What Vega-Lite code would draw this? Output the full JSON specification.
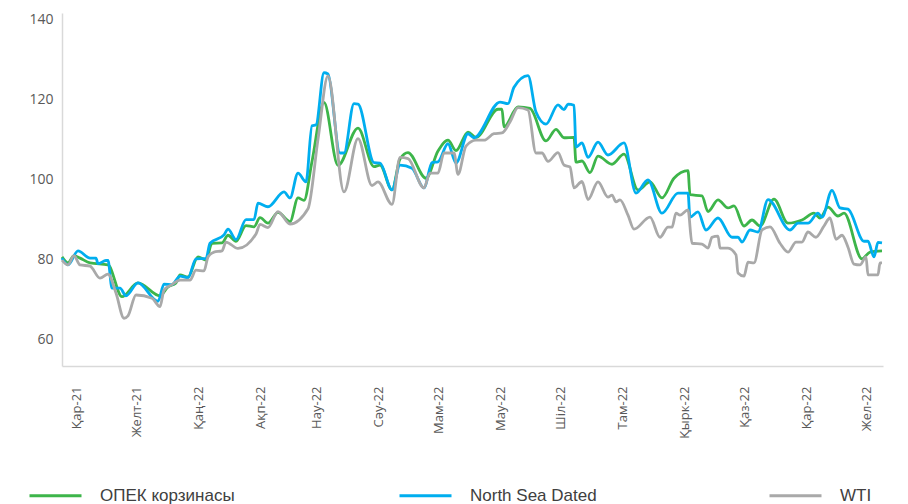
{
  "$schema": "https://vega.github.io/schema/vega-lite/v6.json",
  "width": 821,
  "height": 353,
  "autosize": {"type": "none"},
  "padding": {"left": 62, "top": 13, "right": 25, "bottom": 138},
  "background": "white",
  "config": {"view": {"stroke": null}, "font": "Open Sans"},
  "data": {"values": [
    {"s":"ОПЕК корзинасы","d":"2021-10-25","v":80.7},{"s":"ОПЕК корзинасы","d":"2021-10-28","v":79.2},{"s":"ОПЕК корзинасы","d":"2021-10-31","v":81.0},{"s":"ОПЕК корзинасы","d":"2021-11-03","v":80.4},{"s":"ОПЕК корзинасы","d":"2021-11-08","v":79.2},{"s":"ОПЕК корзинасы","d":"2021-11-17","v":78.7},{"s":"ОПЕК корзинасы","d":"2021-11-24","v":70.8},{"s":"ОПЕК корзинасы","d":"2021-12-02","v":74.2},{"s":"ОПЕК корзинасы","d":"2021-12-13","v":71.0},{"s":"ОПЕК корзинасы","d":"2021-12-17","v":73.2},{"s":"ОПЕК корзинасы","d":"2021-12-21","v":74.2},{"s":"ОПЕК корзинасы","d":"2021-12-23","v":76.2},{"s":"ОПЕК корзинасы","d":"2021-12-27","v":75.7},{"s":"ОПЕК корзинасы","d":"2022-01-01","v":80.7},{"s":"ОПЕК корзинасы","d":"2022-01-05","v":79.9},{"s":"ОПЕК корзинасы","d":"2022-01-08","v":84.1},{"s":"ОПЕК корзинасы","d":"2022-01-13","v":84.2},{"s":"ОПЕК корзинасы","d":"2022-01-16","v":86.1},{"s":"ОПЕК корзинасы","d":"2022-01-20","v":84.6},{"s":"ОПЕК корзинасы","d":"2022-01-25","v":88.5},{"s":"ОПЕК корзинасы","d":"2022-01-29","v":88.2},{"s":"ОПЕК корзинасы","d":"2022-02-01","v":90.5},{"s":"ОПЕК корзинасы","d":"2022-02-05","v":89.1},{"s":"ОПЕК корзинасы","d":"2022-02-10","v":91.8},{"s":"ОПЕК корзинасы","d":"2022-02-16","v":89.5},{"s":"ОПЕК корзинасы","d":"2022-02-20","v":95.4},{"s":"ОПЕК корзинасы","d":"2022-02-23","v":94.8},{"s":"ОПЕК корзинасы","d":"2022-02-27","v":104.5},{"s":"ОПЕК корзинасы","d":"2022-03-05","v":119.2},{"s":"ОПЕК корзинасы","d":"2022-03-12","v":103.5},{"s":"ОПЕК корзинасы","d":"2022-03-22","v":112.8},{"s":"ОПЕК корзинасы","d":"2022-03-30","v":103.2},{"s":"ОПЕК корзинасы","d":"2022-04-02","v":103.6},{"s":"ОПЕК корзинасы","d":"2022-04-08","v":97.4},{"s":"ОПЕК корзинасы","d":"2022-04-12","v":105.1},{"s":"ОПЕК корзинасы","d":"2022-04-16","v":106.7},{"s":"ОПЕК корзинасы","d":"2022-04-25","v":100.3},{"s":"ОПЕК корзинасы","d":"2022-05-01","v":107.1},{"s":"ОПЕК корзинасы","d":"2022-05-06","v":109.8},{"s":"ОПЕК корзинасы","d":"2022-05-10","v":107.2},{"s":"ОПЕК корзинасы","d":"2022-05-16","v":111.8},{"s":"ОПЕК корзинасы","d":"2022-05-20","v":110.5},{"s":"ОПЕК корзинасы","d":"2022-05-31","v":117.5},{"s":"ОПЕК корзинасы","d":"2022-06-02","v":117.5},{"s":"ОПЕК корзинасы","d":"2022-06-03","v":113.1},{"s":"ОПЕК корзинасы","d":"2022-06-10","v":118.1},{"s":"ОПЕК корзинасы","d":"2022-06-16","v":117.7},{"s":"ОПЕК корзинасы","d":"2022-06-24","v":109.6},{"s":"ОПЕК корзинасы","d":"2022-06-29","v":112.5},{"s":"ОПЕК корзинасы","d":"2022-07-03","v":110.4},{"s":"ОПЕК корзинасы","d":"2022-07-08","v":110.5},{"s":"ОПЕК корзинасы","d":"2022-07-09","v":104.3},{"s":"ОПЕК корзинасы","d":"2022-07-12","v":104.6},{"s":"ОПЕК корзинасы","d":"2022-07-16","v":101.7},{"s":"ОПЕК корзинасы","d":"2022-07-20","v":105.8},{"s":"ОПЕК корзинасы","d":"2022-07-27","v":103.8},{"s":"ОПЕК корзинасы","d":"2022-08-02","v":106.3},{"s":"ОПЕК корзинасы","d":"2022-08-09","v":97.4},{"s":"ОПЕК корзинасы","d":"2022-08-15","v":99.4},{"s":"ОПЕК корзинасы","d":"2022-08-21","v":95.4},{"s":"ОПЕК корзинасы","d":"2022-08-27","v":100.3},{"s":"ОПЕК корзинасы","d":"2022-09-03","v":102.2},{"s":"ОПЕК корзинасы","d":"2022-09-04","v":96.2},{"s":"ОПЕК корзинасы","d":"2022-09-10","v":95.9},{"s":"ОПЕК корзинасы","d":"2022-09-13","v":92.0},{"s":"ОПЕК корзинасы","d":"2022-09-18","v":94.9},{"s":"ОПЕК корзинасы","d":"2022-09-23","v":92.9},{"s":"ОПЕК корзинасы","d":"2022-09-26","v":93.4},{"s":"ОПЕК корзинасы","d":"2022-10-01","v":88.4},{"s":"ОПЕК корзинасы","d":"2022-10-05","v":89.9},{"s":"ОПЕК корзинасы","d":"2022-10-09","v":88.4},{"s":"ОПЕК корзинасы","d":"2022-10-16","v":95.1},{"s":"ОПЕК корзинасы","d":"2022-10-23","v":89.1},{"s":"ОПЕК корзинасы","d":"2022-10-30","v":89.9},{"s":"ОПЕК корзинасы","d":"2022-11-05","v":91.6},{"s":"ОПЕК корзинасы","d":"2022-11-08","v":90.4},{"s":"ОПЕК корзинасы","d":"2022-11-12","v":93.1},{"s":"ОПЕК корзинасы","d":"2022-11-17","v":90.9},{"s":"ОПЕК корзинасы","d":"2022-11-20","v":91.6},{"s":"ОПЕК корзинасы","d":"2022-11-29","v":80.2},{"s":"ОПЕК корзинасы","d":"2022-12-03","v":81.9},{"s":"ОПЕК корзинасы","d":"2022-12-09","v":82.2},
    {"s":"North Sea Dated","d":"2021-10-25","v":80.4},{"s":"North Sea Dated","d":"2021-10-28","v":78.7},{"s":"North Sea Dated","d":"2021-11-02","v":82.2},{"s":"North Sea Dated","d":"2021-11-08","v":80.4},{"s":"North Sea Dated","d":"2021-11-11","v":80.4},{"s":"North Sea Dated","d":"2021-11-12","v":79.0},{"s":"North Sea Dated","d":"2021-11-16","v":79.8},{"s":"North Sea Dated","d":"2021-11-17","v":79.8},{"s":"North Sea Dated","d":"2021-11-19","v":72.9},{"s":"North Sea Dated","d":"2021-11-23","v":72.9},{"s":"North Sea Dated","d":"2021-11-26","v":71.0},{"s":"North Sea Dated","d":"2021-12-02","v":74.2},{"s":"North Sea Dated","d":"2021-12-12","v":69.6},{"s":"North Sea Dated","d":"2021-12-15","v":73.9},{"s":"North Sea Dated","d":"2021-12-19","v":73.8},{"s":"North Sea Dated","d":"2021-12-23","v":75.9},{"s":"North Sea Dated","d":"2021-12-27","v":75.5},{"s":"North Sea Dated","d":"2021-12-31","v":80.2},{"s":"North Sea Dated","d":"2022-01-05","v":80.3},{"s":"North Sea Dated","d":"2022-01-07","v":84.1},{"s":"North Sea Dated","d":"2022-01-14","v":86.2},{"s":"North Sea Dated","d":"2022-01-16","v":87.6},{"s":"North Sea Dated","d":"2022-01-20","v":85.0},{"s":"North Sea Dated","d":"2022-01-25","v":90.0},{"s":"North Sea Dated","d":"2022-01-29","v":90.0},{"s":"North Sea Dated","d":"2022-01-31","v":94.1},{"s":"North Sea Dated","d":"2022-02-05","v":93.2},{"s":"North Sea Dated","d":"2022-02-13","v":96.9},{"s":"North Sea Dated","d":"2022-02-16","v":95.4},{"s":"North Sea Dated","d":"2022-02-20","v":101.6},{"s":"North Sea Dated","d":"2022-02-24","v":99.4},{"s":"North Sea Dated","d":"2022-02-27","v":113.4},{"s":"North Sea Dated","d":"2022-03-01","v":113.6},{"s":"North Sea Dated","d":"2022-03-05","v":126.6},{"s":"North Sea Dated","d":"2022-03-07","v":126.3},{"s":"North Sea Dated","d":"2022-03-13","v":106.6},{"s":"North Sea Dated","d":"2022-03-15","v":106.6},{"s":"North Sea Dated","d":"2022-03-20","v":118.9},{"s":"North Sea Dated","d":"2022-03-22","v":118.8},{"s":"North Sea Dated","d":"2022-03-30","v":104.2},{"s":"North Sea Dated","d":"2022-04-02","v":104.1},{"s":"North Sea Dated","d":"2022-04-08","v":97.4},{"s":"North Sea Dated","d":"2022-04-12","v":103.6},{"s":"North Sea Dated","d":"2022-04-18","v":102.8},{"s":"North Sea Dated","d":"2022-04-24","v":97.9},{"s":"North Sea Dated","d":"2022-04-28","v":104.2},{"s":"North Sea Dated","d":"2022-05-01","v":104.4},{"s":"North Sea Dated","d":"2022-05-06","v":108.9},{"s":"North Sea Dated","d":"2022-05-10","v":104.1},{"s":"North Sea Dated","d":"2022-05-16","v":111.4},{"s":"North Sea Dated","d":"2022-05-19","v":110.4},{"s":"North Sea Dated","d":"2022-06-01","v":119.3},{"s":"North Sea Dated","d":"2022-06-05","v":118.9},{"s":"North Sea Dated","d":"2022-06-08","v":123.0},{"s":"North Sea Dated","d":"2022-06-15","v":125.9},{"s":"North Sea Dated","d":"2022-06-19","v":116.8},{"s":"North Sea Dated","d":"2022-06-24","v":113.8},{"s":"North Sea Dated","d":"2022-06-30","v":118.6},{"s":"North Sea Dated","d":"2022-07-03","v":117.4},{"s":"North Sea Dated","d":"2022-07-05","v":118.8},{"s":"North Sea Dated","d":"2022-07-08","v":118.5},{"s":"North Sea Dated","d":"2022-07-09","v":108.1},{"s":"North Sea Dated","d":"2022-07-12","v":109.1},{"s":"North Sea Dated","d":"2022-07-15","v":105.5},{"s":"North Sea Dated","d":"2022-07-20","v":109.3},{"s":"North Sea Dated","d":"2022-07-25","v":106.1},{"s":"North Sea Dated","d":"2022-08-02","v":109.1},{"s":"North Sea Dated","d":"2022-08-08","v":96.6},{"s":"North Sea Dated","d":"2022-08-14","v":99.9},{"s":"North Sea Dated","d":"2022-08-21","v":91.6},{"s":"North Sea Dated","d":"2022-08-29","v":96.6},{"s":"North Sea Dated","d":"2022-09-03","v":96.6},{"s":"North Sea Dated","d":"2022-09-04","v":90.6},{"s":"North Sea Dated","d":"2022-09-08","v":91.9},{"s":"North Sea Dated","d":"2022-09-12","v":87.4},{"s":"North Sea Dated","d":"2022-09-18","v":90.4},{"s":"North Sea Dated","d":"2022-09-25","v":85.6},{"s":"North Sea Dated","d":"2022-09-28","v":85.6},{"s":"North Sea Dated","d":"2022-09-30","v":84.4},{"s":"North Sea Dated","d":"2022-10-04","v":87.4},{"s":"North Sea Dated","d":"2022-10-08","v":86.9},{"s":"North Sea Dated","d":"2022-10-13","v":95.0},{"s":"North Sea Dated","d":"2022-10-24","v":87.4},{"s":"North Sea Dated","d":"2022-10-28","v":89.1},{"s":"North Sea Dated","d":"2022-11-02","v":89.1},{"s":"North Sea Dated","d":"2022-11-07","v":91.6},{"s":"North Sea Dated","d":"2022-11-09","v":90.6},{"s":"North Sea Dated","d":"2022-11-14","v":97.3},{"s":"North Sea Dated","d":"2022-11-18","v":92.9},{"s":"North Sea Dated","d":"2022-11-22","v":92.6},{"s":"North Sea Dated","d":"2022-11-30","v":84.6},{"s":"North Sea Dated","d":"2022-12-02","v":84.6},{"s":"North Sea Dated","d":"2022-12-05","v":80.7},{"s":"North Sea Dated","d":"2022-12-07","v":84.3},{"s":"North Sea Dated","d":"2022-12-09","v":84.2},
    {"s":"WTI","d":"2021-10-25","v":79.9},{"s":"WTI","d":"2021-10-28","v":78.7},{"s":"WTI","d":"2021-10-31","v":81.0},{"s":"WTI","d":"2021-11-03","v":78.7},{"s":"WTI","d":"2021-11-08","v":78.4},{"s":"WTI","d":"2021-11-13","v":75.4},{"s":"WTI","d":"2021-11-17","v":76.4},{"s":"WTI","d":"2021-11-21","v":71.7},{"s":"WTI","d":"2021-11-25","v":65.4},{"s":"WTI","d":"2021-11-27","v":66.0},{"s":"WTI","d":"2021-12-01","v":71.2},{"s":"WTI","d":"2021-12-09","v":70.4},{"s":"WTI","d":"2021-12-13","v":68.3},{"s":"WTI","d":"2021-12-15","v":72.4},{"s":"WTI","d":"2021-12-19","v":73.8},{"s":"WTI","d":"2021-12-23","v":74.9},{"s":"WTI","d":"2021-12-28","v":74.9},{"s":"WTI","d":"2021-12-31","v":77.4},{"s":"WTI","d":"2022-01-04","v":77.2},{"s":"WTI","d":"2022-01-06","v":80.7},{"s":"WTI","d":"2022-01-09","v":81.9},{"s":"WTI","d":"2022-01-13","v":82.2},{"s":"WTI","d":"2022-01-15","v":84.4},{"s":"WTI","d":"2022-01-21","v":82.8},{"s":"WTI","d":"2022-01-30","v":86.4},{"s":"WTI","d":"2022-02-01","v":88.8},{"s":"WTI","d":"2022-02-05","v":88.0},{"s":"WTI","d":"2022-02-10","v":92.0},{"s":"WTI","d":"2022-02-16","v":88.9},{"s":"WTI","d":"2022-02-25","v":92.7},{"s":"WTI","d":"2022-03-02","v":110.0},{"s":"WTI","d":"2022-03-07","v":125.8},{"s":"WTI","d":"2022-03-15","v":96.9},{"s":"WTI","d":"2022-03-22","v":110.2},{"s":"WTI","d":"2022-03-29","v":98.5},{"s":"WTI","d":"2022-04-01","v":99.4},{"s":"WTI","d":"2022-04-08","v":93.8},{"s":"WTI","d":"2022-04-12","v":105.5},{"s":"WTI","d":"2022-04-16","v":105.2},{"s":"WTI","d":"2022-04-24","v":97.9},{"s":"WTI","d":"2022-04-27","v":101.6},{"s":"WTI","d":"2022-05-01","v":101.6},{"s":"WTI","d":"2022-05-04","v":106.6},{"s":"WTI","d":"2022-05-09","v":106.6},{"s":"WTI","d":"2022-05-11","v":101.3},{"s":"WTI","d":"2022-05-15","v":108.3},{"s":"WTI","d":"2022-05-20","v":109.8},{"s":"WTI","d":"2022-05-24","v":109.8},{"s":"WTI","d":"2022-05-29","v":111.4},{"s":"WTI","d":"2022-06-02","v":111.6},{"s":"WTI","d":"2022-06-06","v":114.3},{"s":"WTI","d":"2022-06-10","v":117.9},{"s":"WTI","d":"2022-06-15","v":117.3},{"s":"WTI","d":"2022-06-19","v":106.6},{"s":"WTI","d":"2022-06-22","v":106.6},{"s":"WTI","d":"2022-06-25","v":104.5},{"s":"WTI","d":"2022-06-30","v":106.7},{"s":"WTI","d":"2022-07-03","v":103.6},{"s":"WTI","d":"2022-07-06","v":103.1},{"s":"WTI","d":"2022-07-08","v":97.9},{"s":"WTI","d":"2022-07-12","v":99.5},{"s":"WTI","d":"2022-07-15","v":95.0},{"s":"WTI","d":"2022-07-20","v":99.4},{"s":"WTI","d":"2022-07-25","v":95.6},{"s":"WTI","d":"2022-07-27","v":96.1},{"s":"WTI","d":"2022-07-29","v":94.4},{"s":"WTI","d":"2022-07-31","v":94.9},{"s":"WTI","d":"2022-08-04","v":91.1},{"s":"WTI","d":"2022-08-07","v":87.6},{"s":"WTI","d":"2022-08-15","v":90.6},{"s":"WTI","d":"2022-08-20","v":85.6},{"s":"WTI","d":"2022-08-24","v":88.1},{"s":"WTI","d":"2022-08-26","v":88.1},{"s":"WTI","d":"2022-08-28","v":91.6},{"s":"WTI","d":"2022-08-30","v":91.1},{"s":"WTI","d":"2022-09-03","v":92.4},{"s":"WTI","d":"2022-09-05","v":84.1},{"s":"WTI","d":"2022-09-10","v":83.9},{"s":"WTI","d":"2022-09-13","v":82.9},{"s":"WTI","d":"2022-09-15","v":85.6},{"s":"WTI","d":"2022-09-18","v":85.9},{"s":"WTI","d":"2022-09-19","v":82.9},{"s":"WTI","d":"2022-09-23","v":82.9},{"s":"WTI","d":"2022-09-27","v":81.2},{"s":"WTI","d":"2022-09-28","v":76.7},{"s":"WTI","d":"2022-10-01","v":75.9},{"s":"WTI","d":"2022-10-03","v":79.4},{"s":"WTI","d":"2022-10-06","v":79.2},{"s":"WTI","d":"2022-10-10","v":87.4},{"s":"WTI","d":"2022-10-14","v":88.2},{"s":"WTI","d":"2022-10-19","v":84.1},{"s":"WTI","d":"2022-10-23","v":81.9},{"s":"WTI","d":"2022-10-27","v":84.4},{"s":"WTI","d":"2022-10-30","v":84.4},{"s":"WTI","d":"2022-11-02","v":86.9},{"s":"WTI","d":"2022-11-06","v":85.6},{"s":"WTI","d":"2022-11-10","v":88.4},{"s":"WTI","d":"2022-11-13","v":90.4},{"s":"WTI","d":"2022-11-16","v":85.1},{"s":"WTI","d":"2022-11-19","v":86.1},{"s":"WTI","d":"2022-11-22","v":83.1},{"s":"WTI","d":"2022-11-25","v":78.9},{"s":"WTI","d":"2022-11-28","v":78.7},{"s":"WTI","d":"2022-12-01","v":80.7},{"s":"WTI","d":"2022-12-02","v":76.2},{"s":"WTI","d":"2022-12-07","v":76.2},{"s":"WTI","d":"2022-12-08","v":79.2},{"s":"WTI","d":"2022-12-09","v":79.2}
  ]},
  "mark": {"type": "line", "strokeWidth": 2.8, "interpolate": "monotone"},
  "encoding": {
    "x": {
      "field": "d", "type": "temporal", "title": null,
      "scale": {"type": "utc", "domain": [{"year": 2021, "month": 10, "date": 25, "utc": true}, {"year": 2022, "month": 12, "date": 9, "hours": 12, "utc": true}]},
      "axis": {
        "values": [
          {"year": 2021, "month": 11, "date": 1, "utc": true}, {"year": 2021, "month": 12, "date": 1, "utc": true},
          {"year": 2022, "month": 1, "date": 1, "utc": true}, {"year": 2022, "month": 2, "date": 1, "utc": true},
          {"year": 2022, "month": 3, "date": 1, "utc": true}, {"year": 2022, "month": 4, "date": 1, "utc": true},
          {"year": 2022, "month": 5, "date": 1, "utc": true}, {"year": 2022, "month": 6, "date": 1, "utc": true},
          {"year": 2022, "month": 7, "date": 1, "utc": true}, {"year": 2022, "month": 8, "date": 1, "utc": true},
          {"year": 2022, "month": 9, "date": 1, "utc": true}, {"year": 2022, "month": 10, "date": 1, "utc": true},
          {"year": 2022, "month": 11, "date": 1, "utc": true}, {"year": 2022, "month": 12, "date": 1, "utc": true}
        ],
        "labelExpr": "['Қаң','Ақп','Нау','Сәу','Мам','Мау','Шіл','Там','Қырк','Қаз','Қар', utcyear(datum.value) == 2021 ? 'Желт' : 'Жел'][utcmonth(datum.value)] + '-' + utcFormat(datum.value, '%y')",
        "labelAngle": -90,
        "labelFontSize": 13,
        "labelColor": "#595959",
        "labelPadding": 20,
        "labelFlush": false,
        "labelOverlap": false,
        "labelBound": false,
        "ticks": false,
        "grid": false,
        "domainColor": "#D9D9D9",
        "domainWidth": 1.5
      }
    },
    "y": {
      "field": "v", "type": "quantitative", "title": null,
      "scale": {"domain": [53.5, 141.5], "nice": false, "zero": false},
      "axis": {
        "values": [60, 80, 100, 120, 140],
        "labelFontSize": 14,
        "labelColor": "#595959",
        "labelPadding": 9,
        "ticks": false,
        "grid": false,
        "domainColor": "#D9D9D9",
        "domainWidth": 1.5
      }
    },
    "color": {
      "field": "s", "type": "nominal", "title": null,
      "scale": {"domain": ["ОПЕК корзинасы", "North Sea Dated", "WTI"], "range": ["#3DB54A", "#00AEEF", "#A9A9A9"]},
      "legend": {
        "orient": "none",
        "legendX": -34,
        "legendY": 455,
        "direction": "horizontal",
        "symbolType": "stroke",
        "symbolSize": 2704,
        "symbolStrokeWidth": 3,
        "labelFont": "Liberation Sans",
        "labelFontSize": 17,
        "labelColor": "#404040",
        "labelOffset": 17,
        "labelLimit": 300,
        "gridAlign": "all",
        "columnPadding": 158,
        "padding": 0
      }
    }
  }
}
